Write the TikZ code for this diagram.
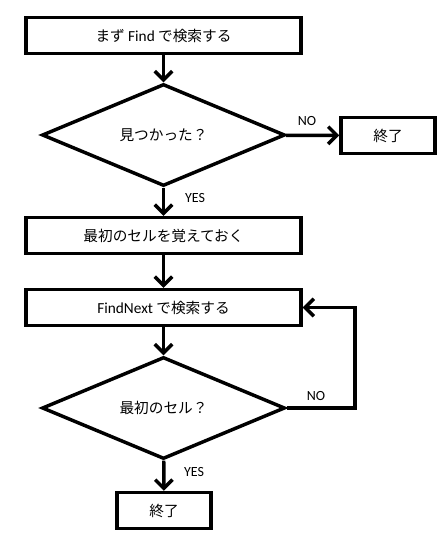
\documentclass[tikz,border=0pt]{standalone}
\usepackage{fontspec}
\setmainfont{Carlito}
\newfontfamily\jp{Noto Sans CJK JP}
\usetikzlibrary{shapes.geometric,arrows.meta}
\tikzset{
  box/.style={draw=black,line width=2.6pt,fill=white,inner sep=0pt,minimum height=27pt,font=\jp\fontsize{11}{13}\selectfont},
  dec/.style={draw=black,line width=2.6pt,fill=white,diamond,inner sep=0pt,minimum width=182.25pt,minimum height=76.5pt,font=\jp\fontsize{11}{13}\selectfont},
  lbl/.style={font=\fontsize{10.5}{12}\selectfont,inner sep=0pt},
  conn/.style={line width=2.6pt,-{Straight Barb[length=6.5pt,width=13pt,line width=2.6pt]}},
}
\begin{document}
\begin{tikzpicture}[x=0.75pt,y=-0.75pt]
\useasboundingbox (0,0) rectangle (448,545);
\node[box,minimum width=206.25pt] (b1) at (163.5,35.5) {まず {\fontspec{Carlito}\fontsize{11.5}{13}\selectfont Find} で検索する};
\node[dec] (d1) at (163.5,135) {見つかった？};
\node[box,minimum width=70.5pt] (e1) at (388,135.5) {終了};
\node[box,minimum width=206.25pt] (b2) at (163.5,235.5) {最初のセルを覚えておく};
\node[box,minimum width=206.25pt] (b3) at (163.5,307.5) {{\fontspec{Carlito}\fontsize{11.5}{13}\selectfont FindNext} で検索する};
\node[dec] (d2) at (163.5,408) {最初のセル？};
\node[box,minimum width=70.5pt] (e2) at (164,510.5) {終了};
\coordinate (c1) at (355,408);
\draw[conn] (b1) -- (d1);
\draw[conn] (d1) -- (e1);
\draw[conn] (d1) -- (b2);
\draw[conn] (b2) -- (b3);
\draw[conn] (b3) -- (d2);
\draw[conn] (d2) -- (e2);
\draw[conn] (d2.east) -- (c1) |- (b3.east);
\node[lbl] (no1) at (307,121) {NO};
\node[lbl] (yes1) at (195,198) {YES};
\node[lbl] (no2) at (316,396) {NO};
\node[lbl] (yes2) at (194,472) {YES};
\end{tikzpicture}
\end{document}
